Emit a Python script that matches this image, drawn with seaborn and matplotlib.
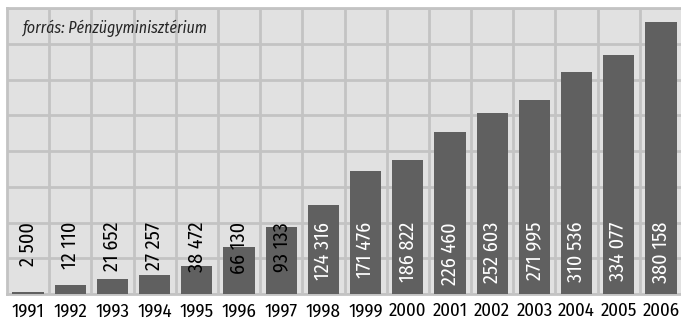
import pandas as pd
import matplotlib
matplotlib.use("Agg")
import matplotlib.pyplot as plt
import seaborn as sns

years = [str(y) for y in range(1991, 2007)]
values = [2500, 12110, 21652, 27257, 38472, 66130, 93133, 124316,
          171476, 186822, 226460, 252603, 271995, 310536, 334077, 380158]
labels = ["2 500", "12 110", "21 652", "27 257", "38 472", "66 130", "93 133",
          "124 316", "171 476", "186 822", "226 460", "252 603", "271 995",
          "310 536", "334 077", "380 158"]
source = "forrás: Pénzügyminisztérium"

df = pd.DataFrame({"Year": years, "Value": values})

sns.set_style("whitegrid")
plt.rcParams['font.family'] = ['Fira Sans Condensed', 'Archivo Narrow',
                               'Roboto Condensed', 'DejaVu Sans']

fig = plt.figure(figsize=(6.81, 3.19), dpi=100)
ax = fig.add_axes([7 / 681, 25 / 319, 675 / 681, 286 / 319])
ax.set_facecolor("#e1e1e1")

sns.barplot(data=df, x="Year", y="Value", color="#606060", width=0.74,
            saturation=1, linewidth=0, ax=ax, zorder=3)

ax.set_ylim(0, 400000)
ax.set_xlim(-0.5, len(years) - 0.5)
ax.set_yticks(range(0, 400001, 50000))
ax.set_xticks([i + 0.5 for i in range(len(years))], minor=True)
ax.grid(False)
ax.grid(True, axis="y", which="major", color="#c3c3c3", linewidth=2, zorder=1)
ax.grid(True, axis="x", which="minor", color="#c3c3c3", linewidth=2, zorder=1)
ax.tick_params(axis="y", left=False, labelleft=False)
ax.tick_params(axis="x", which="both", bottom=False, labelsize=13.5, pad=2.5,
               labelcolor="black")
ax.set_xlabel("")
ax.set_ylabel("")
for s in ax.spines.values():
    s.set_color("#c3c3c3")
    s.set_linewidth(2)

# value labels hang from the 100 000 gridline
for i, (v, lab) in enumerate(zip(values, labels)):
    ax.text(i, 100800, lab, rotation=90, ha="center", va="top", fontsize=14.5,
            color="white" if v > 100000 else "black", zorder=4)

ax.text(0.024, 0.93, source, transform=ax.transAxes, fontsize=11.5,
        style="italic", ha="left", va="center", zorder=4)

fig.savefig("out.png", dpi=100)
